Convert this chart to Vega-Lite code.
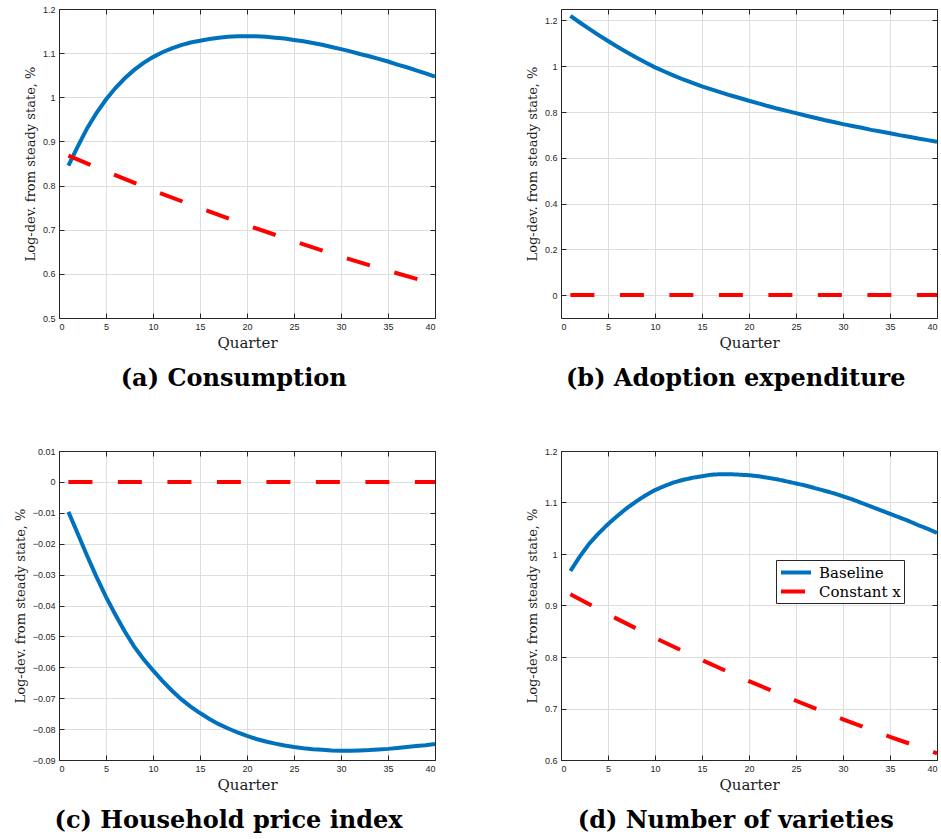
{
  "$schema": "https://vega.github.io/schema/vega-lite/v6.json",
  "padding": {"left": 14, "top": 5, "right": 0, "bottom": 0},
  "background": "white",
  "datasets": {
    "d": [
      {"p":"a","s":"Baseline","q":1,"v":0.845},{"p":"a","s":"Baseline","q":2,"v":0.889},{"p":"a","s":"Baseline","q":3,"v":0.930},{"p":"a","s":"Baseline","q":4,"v":0.965},{"p":"a","s":"Baseline","q":5,"v":0.995},
      {"p":"a","s":"Baseline","q":6,"v":1.021},{"p":"a","s":"Baseline","q":7,"v":1.043},{"p":"a","s":"Baseline","q":8,"v":1.062},{"p":"a","s":"Baseline","q":9,"v":1.078},{"p":"a","s":"Baseline","q":10,"v":1.091},
      {"p":"a","s":"Baseline","q":11,"v":1.102},{"p":"a","s":"Baseline","q":12,"v":1.111},{"p":"a","s":"Baseline","q":13,"v":1.118},{"p":"a","s":"Baseline","q":14,"v":1.124},{"p":"a","s":"Baseline","q":15,"v":1.128},
      {"p":"a","s":"Baseline","q":16,"v":1.132},{"p":"a","s":"Baseline","q":17,"v":1.135},{"p":"a","s":"Baseline","q":18,"v":1.137},{"p":"a","s":"Baseline","q":19,"v":1.138},{"p":"a","s":"Baseline","q":20,"v":1.138},
      {"p":"a","s":"Baseline","q":21,"v":1.138},{"p":"a","s":"Baseline","q":22,"v":1.137},{"p":"a","s":"Baseline","q":23,"v":1.135},{"p":"a","s":"Baseline","q":24,"v":1.133},{"p":"a","s":"Baseline","q":25,"v":1.130},
      {"p":"a","s":"Baseline","q":26,"v":1.127},{"p":"a","s":"Baseline","q":27,"v":1.123},{"p":"a","s":"Baseline","q":28,"v":1.119},{"p":"a","s":"Baseline","q":29,"v":1.114},{"p":"a","s":"Baseline","q":30,"v":1.109},
      {"p":"a","s":"Baseline","q":31,"v":1.104},{"p":"a","s":"Baseline","q":32,"v":1.098},{"p":"a","s":"Baseline","q":33,"v":1.093},{"p":"a","s":"Baseline","q":34,"v":1.087},{"p":"a","s":"Baseline","q":35,"v":1.081},
      {"p":"a","s":"Baseline","q":36,"v":1.074},{"p":"a","s":"Baseline","q":37,"v":1.068},{"p":"a","s":"Baseline","q":38,"v":1.061},{"p":"a","s":"Baseline","q":39,"v":1.054},{"p":"a","s":"Baseline","q":40,"v":1.047},
      {"p":"a","s":"Constant x","q":1,"v":0.868},{"p":"a","s":"Constant x","q":5,"v":0.832},{"p":"a","s":"Constant x","q":10,"v":0.789},{"p":"a","s":"Constant x","q":15,"v":0.749},{"p":"a","s":"Constant x","q":20,"v":0.710},
      {"p":"a","s":"Constant x","q":25,"v":0.674},{"p":"a","s":"Constant x","q":30,"v":0.639},{"p":"a","s":"Constant x","q":35,"v":0.607},{"p":"a","s":"Constant x","q":40,"v":0.577},
      {"p":"b","s":"Baseline","q":1,"v":1.220},{"p":"b","s":"Baseline","q":2,"v":1.191},{"p":"b","s":"Baseline","q":3,"v":1.163},{"p":"b","s":"Baseline","q":4,"v":1.136},{"p":"b","s":"Baseline","q":5,"v":1.110},
      {"p":"b","s":"Baseline","q":6,"v":1.085},{"p":"b","s":"Baseline","q":7,"v":1.061},{"p":"b","s":"Baseline","q":8,"v":1.038},{"p":"b","s":"Baseline","q":9,"v":1.016},{"p":"b","s":"Baseline","q":10,"v":0.995},
      {"p":"b","s":"Baseline","q":11,"v":0.977},{"p":"b","s":"Baseline","q":12,"v":0.959},{"p":"b","s":"Baseline","q":13,"v":0.942},{"p":"b","s":"Baseline","q":14,"v":0.927},{"p":"b","s":"Baseline","q":15,"v":0.912},
      {"p":"b","s":"Baseline","q":16,"v":0.899},{"p":"b","s":"Baseline","q":17,"v":0.886},{"p":"b","s":"Baseline","q":18,"v":0.873},{"p":"b","s":"Baseline","q":19,"v":0.861},{"p":"b","s":"Baseline","q":20,"v":0.849},
      {"p":"b","s":"Baseline","q":21,"v":0.838},{"p":"b","s":"Baseline","q":22,"v":0.826},{"p":"b","s":"Baseline","q":23,"v":0.815},{"p":"b","s":"Baseline","q":24,"v":0.805},{"p":"b","s":"Baseline","q":25,"v":0.795},
      {"p":"b","s":"Baseline","q":26,"v":0.785},{"p":"b","s":"Baseline","q":27,"v":0.775},{"p":"b","s":"Baseline","q":28,"v":0.765},{"p":"b","s":"Baseline","q":29,"v":0.756},{"p":"b","s":"Baseline","q":30,"v":0.747},
      {"p":"b","s":"Baseline","q":31,"v":0.739},{"p":"b","s":"Baseline","q":32,"v":0.731},{"p":"b","s":"Baseline","q":33,"v":0.722},{"p":"b","s":"Baseline","q":34,"v":0.715},{"p":"b","s":"Baseline","q":35,"v":0.707},
      {"p":"b","s":"Baseline","q":36,"v":0.699},{"p":"b","s":"Baseline","q":37,"v":0.692},{"p":"b","s":"Baseline","q":38,"v":0.684},{"p":"b","s":"Baseline","q":39,"v":0.677},{"p":"b","s":"Baseline","q":40,"v":0.670},
      {"p":"b","s":"Constant x","q":1,"v":0},{"p":"b","s":"Constant x","q":40,"v":0},
      {"p":"c","s":"Baseline","q":1,"v":-0.0097},{"p":"c","s":"Baseline","q":2,"v":-0.0168},{"p":"c","s":"Baseline","q":3,"v":-0.0240},{"p":"c","s":"Baseline","q":4,"v":-0.0308},{"p":"c","s":"Baseline","q":5,"v":-0.0372},
      {"p":"c","s":"Baseline","q":6,"v":-0.0430},{"p":"c","s":"Baseline","q":7,"v":-0.0484},{"p":"c","s":"Baseline","q":8,"v":-0.0533},{"p":"c","s":"Baseline","q":9,"v":-0.0574},{"p":"c","s":"Baseline","q":10,"v":-0.0610},
      {"p":"c","s":"Baseline","q":11,"v":-0.0644},{"p":"c","s":"Baseline","q":12,"v":-0.0675},{"p":"c","s":"Baseline","q":13,"v":-0.0703},{"p":"c","s":"Baseline","q":14,"v":-0.0727},{"p":"c","s":"Baseline","q":15,"v":-0.0748},
      {"p":"c","s":"Baseline","q":16,"v":-0.0767},{"p":"c","s":"Baseline","q":17,"v":-0.0784},{"p":"c","s":"Baseline","q":18,"v":-0.0798},{"p":"c","s":"Baseline","q":19,"v":-0.0811},{"p":"c","s":"Baseline","q":20,"v":-0.0822},
      {"p":"c","s":"Baseline","q":21,"v":-0.0832},{"p":"c","s":"Baseline","q":22,"v":-0.0840},{"p":"c","s":"Baseline","q":23,"v":-0.0847},{"p":"c","s":"Baseline","q":24,"v":-0.0853},{"p":"c","s":"Baseline","q":25,"v":-0.0858},
      {"p":"c","s":"Baseline","q":26,"v":-0.0862},{"p":"c","s":"Baseline","q":27,"v":-0.0865},{"p":"c","s":"Baseline","q":28,"v":-0.0867},{"p":"c","s":"Baseline","q":29,"v":-0.0869},{"p":"c","s":"Baseline","q":30,"v":-0.0870},
      {"p":"c","s":"Baseline","q":31,"v":-0.0870},{"p":"c","s":"Baseline","q":32,"v":-0.0869},{"p":"c","s":"Baseline","q":33,"v":-0.0868},{"p":"c","s":"Baseline","q":34,"v":-0.0866},{"p":"c","s":"Baseline","q":35,"v":-0.0864},
      {"p":"c","s":"Baseline","q":36,"v":-0.0861},{"p":"c","s":"Baseline","q":37,"v":-0.0858},{"p":"c","s":"Baseline","q":38,"v":-0.0855},{"p":"c","s":"Baseline","q":39,"v":-0.0852},{"p":"c","s":"Baseline","q":40,"v":-0.0848},
      {"p":"c","s":"Constant x","q":1,"v":0},{"p":"c","s":"Constant x","q":40,"v":0},
      {"p":"d","s":"Baseline","q":1,"v":0.967},{"p":"d","s":"Baseline","q":2,"v":0.995},{"p":"d","s":"Baseline","q":3,"v":1.020},{"p":"d","s":"Baseline","q":4,"v":1.040},{"p":"d","s":"Baseline","q":5,"v":1.058},
      {"p":"d","s":"Baseline","q":6,"v":1.074},{"p":"d","s":"Baseline","q":7,"v":1.089},{"p":"d","s":"Baseline","q":8,"v":1.102},{"p":"d","s":"Baseline","q":9,"v":1.114},{"p":"d","s":"Baseline","q":10,"v":1.124},
      {"p":"d","s":"Baseline","q":11,"v":1.132},{"p":"d","s":"Baseline","q":12,"v":1.139},{"p":"d","s":"Baseline","q":13,"v":1.144},{"p":"d","s":"Baseline","q":14,"v":1.148},{"p":"d","s":"Baseline","q":15,"v":1.151},
      {"p":"d","s":"Baseline","q":16,"v":1.154},{"p":"d","s":"Baseline","q":17,"v":1.155},{"p":"d","s":"Baseline","q":18,"v":1.155},{"p":"d","s":"Baseline","q":19,"v":1.154},{"p":"d","s":"Baseline","q":20,"v":1.153},
      {"p":"d","s":"Baseline","q":21,"v":1.151},{"p":"d","s":"Baseline","q":22,"v":1.148},{"p":"d","s":"Baseline","q":23,"v":1.145},{"p":"d","s":"Baseline","q":24,"v":1.141},{"p":"d","s":"Baseline","q":25,"v":1.137},
      {"p":"d","s":"Baseline","q":26,"v":1.133},{"p":"d","s":"Baseline","q":27,"v":1.128},{"p":"d","s":"Baseline","q":28,"v":1.123},{"p":"d","s":"Baseline","q":29,"v":1.118},{"p":"d","s":"Baseline","q":30,"v":1.112},
      {"p":"d","s":"Baseline","q":31,"v":1.106},{"p":"d","s":"Baseline","q":32,"v":1.099},{"p":"d","s":"Baseline","q":33,"v":1.092},{"p":"d","s":"Baseline","q":34,"v":1.085},{"p":"d","s":"Baseline","q":35,"v":1.078},
      {"p":"d","s":"Baseline","q":36,"v":1.071},{"p":"d","s":"Baseline","q":37,"v":1.064},{"p":"d","s":"Baseline","q":38,"v":1.056},{"p":"d","s":"Baseline","q":39,"v":1.049},{"p":"d","s":"Baseline","q":40,"v":1.041},
      {"p":"d","s":"Constant x","q":1,"v":0.922},{"p":"d","s":"Constant x","q":5,"v":0.883},{"p":"d","s":"Constant x","q":10,"v":0.837},{"p":"d","s":"Constant x","q":15,"v":0.794},{"p":"d","s":"Constant x","q":20,"v":0.753},
      {"p":"d","s":"Constant x","q":25,"v":0.715},{"p":"d","s":"Constant x","q":30,"v":0.679},{"p":"d","s":"Constant x","q":35,"v":0.645},{"p":"d","s":"Constant x","q":40,"v":0.613}
    ]
  },
  "columns": 2,
  "bounds": "flush",
  "spacing": {"row": 133, "column": 126},
  "resolve": {
    "scale": {"color": "independent", "strokeDash": "independent"},
    "legend": {"color": "independent", "strokeDash": "independent"}
  },
  "concat": [
    {
      "width": 376, "height": 309,
      "title": {"text": "(a) Consumption", "orient": "bottom", "anchor": "middle", "frame": "bounds", "font": "DejaVu Serif", "fontWeight": "bold", "fontSize": 24, "offset": 17, "color": "black"},
      "data": {"name": "d"},
      "transform": [{"filter": "datum.p === 'a'"}],
      "layer": [
        {
          "transform": [{"filter": "datum.s === 'Baseline'"}],
          "mark": {"type": "line", "color": "#0072BD", "strokeWidth": 4},
          "encoding": {
            "x": {"field": "q", "type": "quantitative", "scale": {"domain": [0, 40], "nice": false}, "axis": {"orient": "bottom", "values": [0,5,10,15,20,25,30,35,40], "title": "Quarter", "grid": true}},
            "y": {"field": "v", "type": "quantitative", "scale": {"domain": [0.5, 1.2], "nice": false, "zero": false}, "axis": {"orient": "left", "values": [0.5,0.6,0.7,0.8,0.9,1,1.1,1.2], "format": "~g", "title": "Log-dev. from steady state, %", "grid": true}}
          }
        },
        {
          "transform": [{"filter": "datum.s === 'Constant x'"}],
          "mark": {"type": "line", "color": "#FF0000", "strokeWidth": 4, "strokeDash": [24, 25.5]},
          "encoding": {
            "x": {"field": "q", "type": "quantitative", "scale": {"domain": [0, 40], "nice": false}, "axis": {"orient": "top", "values": [0,5,10,15,20,25,30,35,40], "labels": false, "title": null, "grid": false}},
            "y": {"field": "v", "type": "quantitative", "scale": {"domain": [0.5, 1.2], "nice": false, "zero": false}, "axis": {"orient": "right", "values": [0.5,0.6,0.7,0.8,0.9,1,1.1,1.2], "labels": false, "title": null, "grid": false}}
          }
        }
      ],
      "resolve": {"axis": {"x": "independent", "y": "independent"}}
    },
    {
      "width": 376, "height": 309,
      "title": {"text": "(b) Adoption expenditure", "orient": "bottom", "anchor": "middle", "frame": "bounds", "font": "DejaVu Serif", "fontWeight": "bold", "fontSize": 24, "offset": 17, "color": "black"},
      "data": {"name": "d"},
      "transform": [{"filter": "datum.p === 'b'"}],
      "layer": [
        {
          "transform": [{"filter": "datum.s === 'Baseline'"}],
          "mark": {"type": "line", "color": "#0072BD", "strokeWidth": 4},
          "encoding": {
            "x": {"field": "q", "type": "quantitative", "scale": {"domain": [0, 40], "nice": false}, "axis": {"orient": "bottom", "values": [0,5,10,15,20,25,30,35,40], "title": "Quarter", "grid": true}},
            "y": {"field": "v", "type": "quantitative", "scale": {"domain": [-0.1, 1.25], "nice": false, "zero": false}, "axis": {"orient": "left", "values": [0,0.2,0.4,0.6,0.8,1,1.2], "format": "~g", "title": "Log-dev. from steady state, %", "grid": true}}
          }
        },
        {
          "transform": [{"filter": "datum.s === 'Constant x'"}],
          "mark": {"type": "line", "color": "#FF0000", "strokeWidth": 4, "strokeDash": [24, 25.5]},
          "encoding": {
            "x": {"field": "q", "type": "quantitative", "scale": {"domain": [0, 40], "nice": false}, "axis": {"orient": "top", "values": [0,5,10,15,20,25,30,35,40], "labels": false, "title": null, "grid": false}},
            "y": {"field": "v", "type": "quantitative", "scale": {"domain": [-0.1, 1.25], "nice": false, "zero": false}, "axis": {"orient": "right", "values": [0,0.2,0.4,0.6,0.8,1,1.2], "labels": false, "title": null, "grid": false}}
          }
        }
      ],
      "resolve": {"axis": {"x": "independent", "y": "independent"}}
    },
    {
      "width": 376, "height": 309,
      "title": {"text": "(c) Household price index", "orient": "bottom", "anchor": "middle", "frame": "bounds", "font": "DejaVu Serif", "fontWeight": "bold", "fontSize": 24, "offset": 17, "color": "black"},
      "data": {"name": "d"},
      "transform": [{"filter": "datum.p === 'c'"}],
      "layer": [
        {
          "transform": [{"filter": "datum.s === 'Baseline'"}],
          "mark": {"type": "line", "color": "#0072BD", "strokeWidth": 4},
          "encoding": {
            "x": {"field": "q", "type": "quantitative", "scale": {"domain": [0, 40], "nice": false}, "axis": {"orient": "bottom", "values": [0,5,10,15,20,25,30,35,40], "title": "Quarter", "grid": true}},
            "y": {"field": "v", "type": "quantitative", "scale": {"domain": [-0.09, 0.01], "nice": false, "zero": false}, "axis": {"orient": "left", "values": [-0.09,-0.08,-0.07,-0.06,-0.05,-0.04,-0.03,-0.02,-0.01,0,0.01], "format": "~g", "title": "Log-dev. from steady state, %", "grid": true}}
          }
        },
        {
          "transform": [{"filter": "datum.s === 'Constant x'"}],
          "mark": {"type": "line", "color": "#FF0000", "strokeWidth": 4, "strokeDash": [24, 25.5]},
          "encoding": {
            "x": {"field": "q", "type": "quantitative", "scale": {"domain": [0, 40], "nice": false}, "axis": {"orient": "top", "values": [0,5,10,15,20,25,30,35,40], "labels": false, "title": null, "grid": false}},
            "y": {"field": "v", "type": "quantitative", "scale": {"domain": [-0.09, 0.01], "nice": false, "zero": false}, "axis": {"orient": "right", "values": [-0.09,-0.08,-0.07,-0.06,-0.05,-0.04,-0.03,-0.02,-0.01,0,0.01], "labels": false, "title": null, "grid": false}}
          }
        }
      ],
      "resolve": {"axis": {"x": "independent", "y": "independent"}}
    },
    {
      "width": 376, "height": 309,
      "title": {"text": "(d) Number of varieties", "orient": "bottom", "anchor": "middle", "frame": "bounds", "font": "DejaVu Serif", "fontWeight": "bold", "fontSize": 24, "offset": 17, "color": "black"},
      "data": {"name": "d"},
      "transform": [{"filter": "datum.p === 'd'"}],
      "layer": [
        {
          "transform": [{"filter": "datum.s === 'Baseline'"}],
          "mark": {"type": "line", "strokeWidth": 4},
          "encoding": {
            "x": {"field": "q", "type": "quantitative", "scale": {"domain": [0, 40], "nice": false}, "axis": {"orient": "bottom", "values": [0,5,10,15,20,25,30,35,40], "title": "Quarter", "grid": true}},
            "y": {"field": "v", "type": "quantitative", "scale": {"domain": [0.6, 1.2], "nice": false, "zero": false}, "axis": {"orient": "left", "values": [0.6,0.7,0.8,0.9,1,1.1,1.2], "format": "~g", "title": "Log-dev. from steady state, %", "grid": true}},
            "color": {"field": "s", "type": "nominal", "scale": {"domain": ["Baseline", "Constant x"], "range": ["#0072BD", "#FF0000"]}, "legend": {"orient": "none", "legendX": 215, "legendY": 109, "title": null}},
            "strokeDash": {"field": "s", "type": "nominal", "scale": {"domain": ["Baseline", "Constant x"], "range": [[1, 0], [24, 25.5]]}, "legend": {"orient": "none", "legendX": 215, "legendY": 109, "title": null}}
          }
        },
        {
          "transform": [{"filter": "datum.s === 'Constant x'"}],
          "mark": {"type": "line", "strokeWidth": 4},
          "encoding": {
            "x": {"field": "q", "type": "quantitative", "scale": {"domain": [0, 40], "nice": false}, "axis": {"orient": "top", "values": [0,5,10,15,20,25,30,35,40], "labels": false, "title": null, "grid": false}},
            "y": {"field": "v", "type": "quantitative", "scale": {"domain": [0.6, 1.2], "nice": false, "zero": false}, "axis": {"orient": "right", "values": [0.6,0.7,0.8,0.9,1,1.1,1.2], "labels": false, "title": null, "grid": false}},
            "color": {"field": "s", "type": "nominal", "scale": {"domain": ["Baseline", "Constant x"], "range": ["#0072BD", "#FF0000"]}, "legend": {"orient": "none", "legendX": 215, "legendY": 109, "title": null}},
            "strokeDash": {"field": "s", "type": "nominal", "scale": {"domain": ["Baseline", "Constant x"], "range": [[1, 0], [24, 25.5]]}, "legend": {"orient": "none", "legendX": 215, "legendY": 109, "title": null}}
          }
        }
      ],
      "resolve": {"axis": {"x": "independent", "y": "independent"}}
    }
  ],
  "config": {
    "view": {"stroke": null},
    "axis": {
      "domainColor": "#262626",
      "domainWidth": 1,
      "tickColor": "#262626",
      "tickSize": -5,
      "labelColor": "#262626",
      "labelFont": "Liberation Sans",
      "labelFontSize": 9,
      "labelPadding": 9,
      "gridColor": "#dedede",
      "gridWidth": 1,
      "titleFont": "DejaVu Serif",
      "titleFontWeight": "normal",
      "titleColor": "#1a1a1a"
    },
    "axisX": {"titleFontSize": 15, "titlePadding": 4},
    "axisY": {"titleFontSize": 13, "titlePadding": 5},
    "legend": {
      "strokeColor": "#262626",
      "fillColor": "white",
      "padding": 3,
      "cornerRadius": 0,
      "labelFont": "DejaVu Serif",
      "labelFontSize": 15,
      "labelColor": "black",
      "labelOffset": 21,
      "symbolType": "M-1,0H3",
      "symbolSize": 225,
      "symbolStrokeWidth": 4,
      "rowPadding": 1
    }
  }
}
